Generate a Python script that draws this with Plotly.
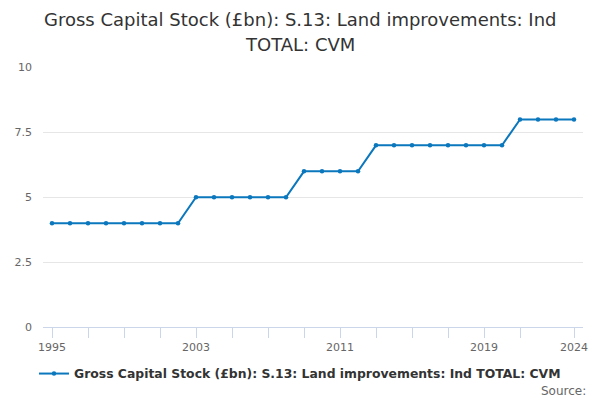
import plotly.graph_objects as go

years = list(range(1995, 2025))
values = [4, 4, 4, 4, 4, 4, 4, 4,
          5, 5, 5, 5, 5, 5,
          6, 6, 6, 6,
          7, 7, 7, 7, 7, 7, 7, 7,
          8, 8, 8, 8]
tick_years = [1995, 1997, 1999, 2001, 2003, 2005, 2007, 2009, 2011, 2013, 2015, 2017, 2019, 2021, 2024]
labelled = [1995, 2003, 2011, 2019, 2024]
tick_text = [str(y) if y in labelled else "" for y in tick_years]
y_ticks = [0, 2.5, 5, 7.5, 10]
y_text = ["0", "2.5", "5", "7.5", "10"]

title_lines = ["Gross Capital Stock (£bn): S.13: Land improvements: Ind", "TOTAL: CVM"]
series_name = "Gross Capital Stock (£bn): S.13: Land improvements: Ind TOTAL: CVM"
color = "#0b77bd"
font = "DejaVu Sans"

L, R, T, B = 43, 17, 67, 73
pw, ph = 600 - L - R, 400 - T - B

def px_x(x):
    return (x - L) / pw

def px_y(y):
    return (400 - B - y) / ph

fig = go.Figure()
fig.add_trace(go.Scatter(
    x=years, y=values, mode="lines+markers", name=series_name,
    line=dict(color=color, width=2),
    marker=dict(color=color, size=4.5),
))

annotations = [
    dict(text=title_lines[0], xref="paper", yref="paper", x=px_x(300), y=px_y(20),
         xanchor="center", yanchor="middle", showarrow=False,
         font=dict(family=font, size=18, color="#333333")),
    dict(text=title_lines[1], xref="paper", yref="paper", x=px_x(300), y=px_y(44),
         xanchor="center", yanchor="middle", showarrow=False,
         font=dict(family=font, size=18, color="#333333")),
    dict(text="Source:", xref="paper", yref="paper",
         x=px_x(588), y=px_y(391), xanchor="right", yanchor="middle",
         showarrow=False, font=dict(family=font, size=12, color="#666666")),
]

fig.update_layout(
    width=600, height=400,
    margin=dict(l=L, r=R, t=T, b=B, autoexpand=False),
    paper_bgcolor="white", plot_bgcolor="white",
    font=dict(family=font, color="#666666", size=11),
    showlegend=True,
    legend=dict(
        orientation="h", xref="container", yref="container",
        x=0.5, xanchor="center", y=1 - 374 / 400, yanchor="middle",
        font=dict(family=font, size=12.4, color="#333333", weight="bold"),
        itemwidth=30,
    ),
    xaxis=dict(
        range=[1994.5, 2024.5],
        tickmode="array", tickvals=tick_years, ticktext=tick_text,
        ticks="outside", ticklen=10, tickcolor="#ccd6eb", tickwidth=1,
        showline=True, linecolor="#ccd6eb", linewidth=1,
        showgrid=False, zeroline=False,
        tickfont=dict(family=font, size=11, color="#666666"),
        fixedrange=True,
    ),
    yaxis=dict(
        range=[0, 10.02],
        tickmode="array", tickvals=y_ticks, ticktext=y_text,
        showgrid=True, gridcolor="#e6e6e6", gridwidth=1,
        zeroline=False, showline=False, ticks="",
        tickfont=dict(family=font, size=11, color="#666666"),
        ticklabelstandoff=10,
        fixedrange=True,
    ),
    annotations=annotations,
)

fig.write_html("out.html", config={"displayModeBar": False},
               post_script="document.body.style.margin='0';")
